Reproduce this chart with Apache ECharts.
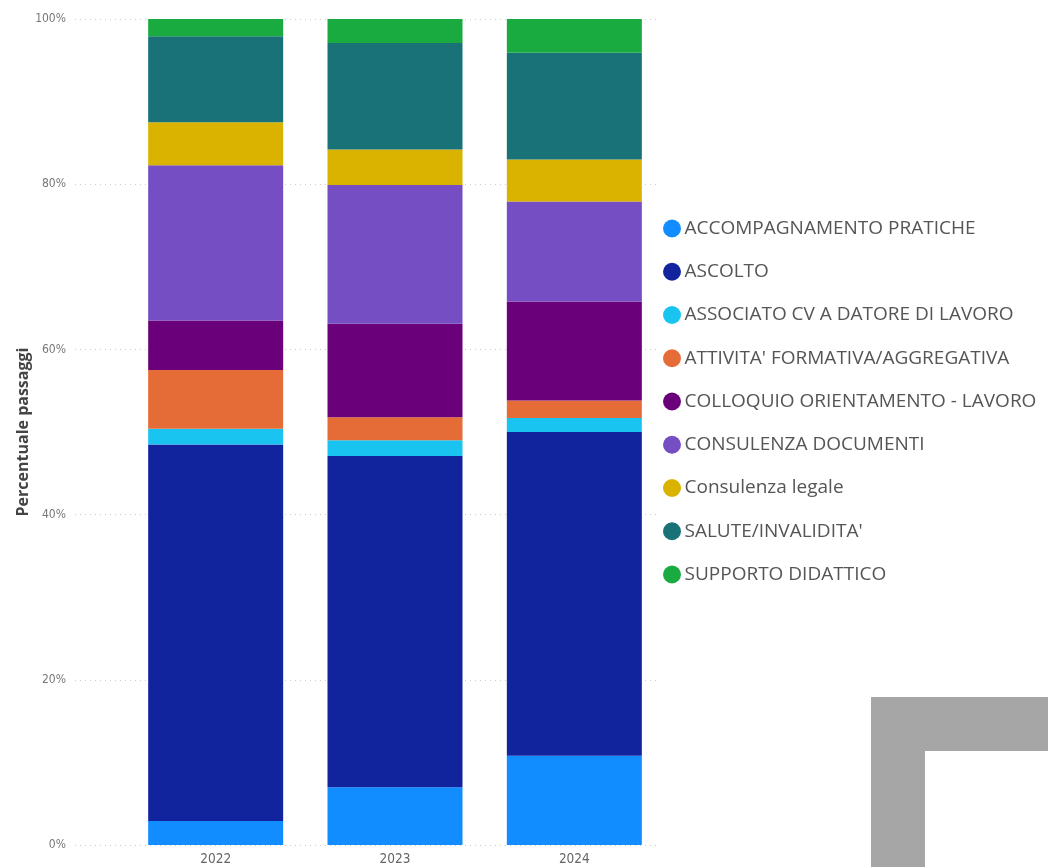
<!DOCTYPE html>
<html>
<head>
<meta charset="utf-8">
<script src="https://cdn.jsdelivr.net/npm/echarts@6/dist/echarts.min.js"></script>
<style>
  html, body { margin: 0; padding: 0; background: #ffffff; }
  #chart { width: 1048px; height: 867px; }
</style>
</head>
<body>
<div id="chart"></div>
<script>
// Years on the category axis
const years = ['2022', '2023', '2024'];

// Share of visits (%) per service type, one value per year
const accompagnamentoPratiche = [2.9, 7.0, 10.8];
const ascolto = [45.6, 40.1, 39.2];
const associatoCv = [1.9, 1.9, 1.7];
const attivitaFormativa = [7.1, 2.8, 2.1];
const colloquioOrientamento = [6.0, 11.3, 12.0];
const consulenzaDocumenti = [18.8, 16.8, 12.1];
const consulenzaLegale = [5.2, 4.3, 5.1];
const saluteInvalidita = [10.4, 12.9, 12.9];
const supportoDidattico = [2.1, 2.9, 4.1];

const seriesDefs = [
  ['ACCOMPAGNAMENTO PRATICHE', accompagnamentoPratiche, '#118DFF'],
  ['ASCOLTO', ascolto, '#12239E'],
  ['ASSOCIATO CV A DATORE DI LAVORO', associatoCv, '#1AC4F0'],
  ["ATTIVITA' FORMATIVA/AGGREGATIVA", attivitaFormativa, '#E66C37'],
  ['COLLOQUIO ORIENTAMENTO - LAVORO', colloquioOrientamento, '#6B007B'],
  ['CONSULENZA DOCUMENTI', consulenzaDocumenti, '#744EC2'],
  ['Consulenza legale', consulenzaLegale, '#D9B300'],
  ["SALUTE/INVALIDITA'", saluteInvalidita, '#197278'],
  ['SUPPORTO DIDATTICO', supportoDidattico, '#1AAB40']
];

// Percent tick labels on the value axis
const yTicks = ['0%', '20%', '40%', '60%', '80%', '100%'];

const chart = echarts.init(document.getElementById('chart'), null, { renderer: 'canvas' });

const series = seriesDefs.map(([name, values, color]) => ({
  name: name,
  type: 'bar',
  stack: 'total',
  xAxisIndex: 1,
  yAxisIndex: 1,
  barWidth: 135,
  data: values,
  itemStyle: { color: color },
  emphasis: { disabled: true }
}));

chart.setOption({
  animation: false,
  backgroundColor: '#ffffff',
  grid: [
    // wide grid: gridlines and percent labels
    { left: 75, right: 391, top: 19, bottom: 22 },
    // narrow grid: the bars
    { left: 126, right: 384, top: 19, bottom: 22 }
  ],
  xAxis: [
    { type: 'value', gridIndex: 0, show: false, min: 0, max: 1 },
    {
      type: 'category',
      gridIndex: 1,
      data: years,
      axisLine: { show: false },
      axisTick: { show: false },
      axisLabel: {
        color: '#666666',
        fontFamily: 'DejaVu Sans Condensed',
        fontSize: 13.5,
        margin: 7
      }
    }
  ],
  yAxis: [
    {
      type: 'value',
      gridIndex: 0,
      min: 0,
      max: 100,
      interval: 20,
      name: 'Percentuale passaggi',
      nameLocation: 'middle',
      nameGap: 44,
      nameMoveOverlap: false,
      nameTextStyle: {
        color: '#444444',
        fontFamily: 'Open Sans',
        fontWeight: 'bold',
        fontSize: 16
      },
      axisLine: { show: false },
      axisTick: { show: false },
      axisLabel: {
        color: '#777777',
        fontFamily: 'DejaVu Sans Condensed',
        fontSize: 12,
        margin: 9,
        formatter: (v) => yTicks[Math.round(v / 20)]
      },
      splitLine: {
        lineStyle: { color: '#cccccc', type: [1, 4], width: 1 }
      }
    },
    {
      type: 'value',
      gridIndex: 1,
      min: 0,
      max: 100,
      interval: 20,
      show: false,
      splitLine: { show: false }
    }
  ],
  legend: {
    orient: 'vertical',
    left: 658,
    top: 214,
    icon: 'circle',
    itemWidth: 19,
    itemHeight: 18,
    itemGap: 24.25,
    selectedMode: false,
    textStyle: {
      color: '#555555',
      fontFamily: 'Open Sans',
      fontSize: 19,
      lineHeight: 18,
      padding: [0, 0, 0, -2]
    },
    data: seriesDefs.map((d) => d[0])
  },
  graphic: [
    {
      type: 'polygon',
      shape: {
        points: [[871, 697], [1048, 697], [1048, 751], [925, 751], [925, 867], [871, 867]]
      },
      style: { fill: '#a6a6a6' },
      silent: true
    }
  ],
  series: series
});
</script>
</body>
</html>
